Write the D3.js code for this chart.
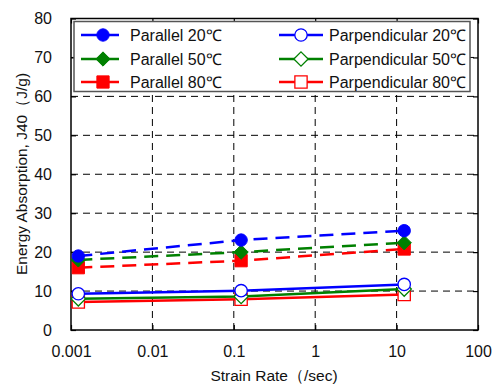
<!DOCTYPE html>
<html>
<head>
<meta charset="utf-8">
<script src="https://cdn.jsdelivr.net/npm/d3@7"></script>
<style>
  body { margin: 0; background: #fff; }
  text { font-family: "Liberation Sans", Arial, sans-serif; fill: #111; }
</style>
</head>
<body>
<svg id="chart" width="492" height="385"></svg>
<script>
// strain rates (1/sec)
const rates = [0.00123, 0.123, 12.4];
const xTicks = [0.001, 0.01, 0.1, 1, 10, 100];
const xTickLabels = ["0.001", "0.01", "0.1", "1", "10", "100"];
const yTicks = [0, 10, 20, 30, 40, 50, 60, 70, 80];

const parallel20 = [19.0, 23.1, 25.5];
const parallel50 = [18.0, 20.0, 22.4];
const parallel80 = [16.0, 17.8, 20.8];
const perp20 = [9.3, 10.1, 11.7];
const perp50 = [8.0, 8.6, 10.5];
const perp80 = [7.2, 7.9, 9.1];

const seriesNames = ["Parallel 20℃", "Parallel 50℃", "Parallel 80℃",
  "Parpendicular 20℃", "Parpendicular 50℃", "Parpendicular 80℃"];

const series = [
  { name: seriesNames[0], values: parallel20, color: "#0000ff", shape: "circle", filled: true, dashed: true },
  { name: seriesNames[1], values: parallel50, color: "#008000", shape: "diamond", filled: true, dashed: true },
  { name: seriesNames[2], values: parallel80, color: "#ff0000", shape: "square", filled: true, dashed: true },
  { name: seriesNames[3], values: perp20, color: "#0000ff", shape: "circle", filled: false, dashed: false },
  { name: seriesNames[4], values: perp50, color: "#008000", shape: "diamond", filled: false, dashed: false },
  { name: seriesNames[5], values: perp80, color: "#ff0000", shape: "square", filled: false, dashed: false }
];

const svg = d3.select("#chart");
const pLeft = 71, pRight = 478, pTop = 18.5, pBottom = 330;

const x = d3.scaleLog().domain([0.001, 100]).range([pLeft, pRight]);
const y = d3.scaleLinear().domain([0, 80]).range([pBottom, pTop]);

// grid
const grid = svg.append("g").attr("stroke", "#000").attr("stroke-width", 1).attr("stroke-dasharray", "7,5");
grid.selectAll("line.v").data(xTicks.slice(1, -1)).enter().append("line")
  .attr("x1", d => x(d)).attr("x2", d => x(d)).attr("y1", pBottom).attr("y2", pTop);
grid.selectAll("line.h").data(yTicks.slice(1, -1)).enter().append("line")
  .attr("y1", d => y(d)).attr("y2", d => y(d)).attr("x1", pLeft).attr("x2", pRight);

// axes with inward ticks on all sides
const fmt = (d, i) => xTickLabels[i];
svg.append("g").attr("transform", `translate(0,${pBottom})`)
  .call(d3.axisBottom(x).tickValues(xTicks).tickFormat(fmt).tickSize(-5).tickPadding(16));
svg.append("g").attr("transform", `translate(0,${pTop})`)
  .call(d3.axisTop(x).tickValues(xTicks).tickFormat("").tickSize(-5));
svg.append("g").attr("transform", `translate(${pLeft},0)`)
  .call(d3.axisLeft(y).tickValues(yTicks).tickSize(-5).tickPadding(19));
svg.append("g").attr("transform", `translate(${pRight},0)`)
  .call(d3.axisRight(y).tickValues(yTicks).tickFormat("").tickSize(-5));
svg.selectAll(".domain").remove();
svg.selectAll(".tick line").attr("stroke", "#000").attr("stroke-width", 1.2);
svg.selectAll(".tick text").style("font-size", "16px").attr("fill", "#111")
  .style("font-family", "'Liberation Sans', Arial, sans-serif");

svg.append("rect").attr("x", pLeft).attr("y", pTop).attr("width", pRight - pLeft).attr("height", pBottom - pTop)
  .attr("fill", "none").attr("stroke", "#000").attr("stroke-width", 1.5);

// markers
const sym = {
  circle: d3.symbol().type(d3.symbolCircle).size(120),
  diamond: d3.symbol().type(d3.symbolDiamond2).size(130),
  square: d3.symbol().type(d3.symbolSquare).size(150)
};
function marker(g, s, cx, cy) {
  g.append("path").attr("d", sym[s.shape]())
    .attr("transform", `translate(${cx},${cy})`)
    .attr("fill", s.filled ? s.color : "#fff")
    .attr("stroke", s.color).attr("stroke-width", s.filled ? 1 : 1.3);
}

const line = d3.line().x((d, i) => x(rates[i])).y(d => y(d));
const plot = svg.append("g");
series.slice().reverse().forEach(s => {
  plot.append("path").datum(s.values).attr("d", line)
    .attr("fill", "none").attr("stroke", s.color).attr("stroke-width", 2.5)
    .attr("stroke-dasharray", s.dashed ? "14,8" : null);
});
series.slice().reverse().forEach(s => {
  s.values.forEach((v, i) => marker(plot, s, x(rates[i]), y(v)));
});

// legend
svg.append("rect").attr("x", 74).attr("y", 21.5).attr("width", 396).attr("height", 70)
  .attr("fill", "#fff").attr("stroke", "#555").attr("stroke-width", 1.5);
const rowY = [35, 59, 82];
series.forEach((s, i) => {
  const col = i < 3 ? 0 : 1;
  const ry = rowY[i % 3];
  const x1 = col ? 279 : 81, x2 = col ? 323 : 119, mx = col ? 301 : 103;
  const lg = svg.append("g");
  lg.append("line").attr("x1", x1).attr("x2", x2).attr("y1", ry).attr("y2", ry)
    .attr("stroke", s.color).attr("stroke-width", 2.5);
  marker(lg, s, mx, ry);
  lg.append("text").attr("x", col ? 466 : 130).attr("y", ry + 6)
    .attr("text-anchor", col ? "end" : "start")
    .style("font-size", "16px").text(s.name);
});

// axis titles
svg.append("text").attr("x", 274).attr("y", 381).attr("text-anchor", "middle")
  .style("font-size", "15.5px").text("Strain Rate（/sec)");
svg.append("text").attr("transform", "translate(27,174) rotate(-90)").attr("text-anchor", "middle")
  .style("font-size", "15.5px").text("Energy Absorption, J40（J/g)");
</script>
</body>
</html>
